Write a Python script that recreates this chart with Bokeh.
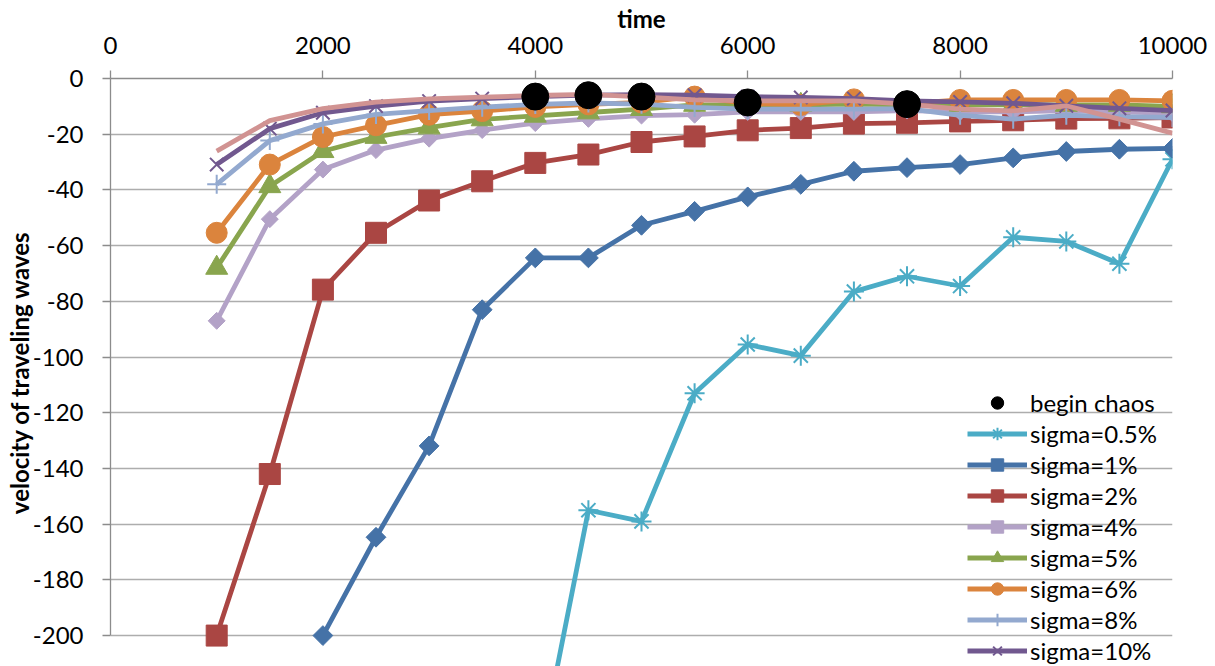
import numpy as np
from bokeh.plotting import figure
from bokeh.models import Range1d, Legend, LegendItem, SingleIntervalTicker, PrintfTickFormatter
from bokeh.embed import file_html
from bokeh.resources import INLINE

# ---- data ----
time = [1000, 1500, 2000, 2500, 3000, 3500, 4000, 4500, 5000, 5500,
        6000, 6500, 7000, 7500, 8000, 8500, 9000, 9500, 10000]

chaos_time = [4000, 4500, 5000, 6000, 7500]
chaos_vel = [-6.5, -6.0, -6.5, -8.6, -9.2]

time_s05 = [4000, 4500, 5000, 5500, 6000, 6500, 7000, 7500, 8000, 8500, 9000, 9500, 10000]
sigma_05 = [-251, -155, -159, -113, -95.5, -99.5, -76.5, -71, -74.5, -57, -58.5, -66.5, -29]

time_s1 = [2000, 2500, 3000, 3500, 4000, 4500, 5000, 5500, 6000, 6500,
           7000, 7500, 8000, 8500, 9000, 9500, 10000]
sigma_1 = [-200, -164.7, -131.9, -83, -64.4, -64.4, -52.7, -47.7, -42.5, -38,
           -33.3, -32, -30.9, -28.5, -26.2, -25.4, -25.1]

sigma_2 = [-200, -142, -75.8, -55.4, -43.8, -36.9, -30.3, -27.3, -22.8, -20.8,
           -18.6, -17.8, -16.2, -15.9, -15.4, -15.0, -14.4, -14.3, -14.0]
sigma_4 = [-87, -50.5, -32.7, -25.7, -21.6, -18.5, -16.0, -14.5, -13.3, -13.0,
           -12.0, -12.0, -12.0, -11.5, -12.0, -12.0, -11.5, -12.0, -12.5]
sigma_5 = [-68, -38.7, -26.1, -21.0, -17.6, -14.7, -13.4, -12.2, -11.0, -9.5,
           -9.5, -9.5, -9.2, -9.5, -9.5, -9.5, -9.5, -9.5, -10.0]
sigma_6 = [-55.4, -30.9, -21.0, -16.8, -13.0, -11.7, -10.2, -9.3, -8.6, -6.5,
           -9.0, -9.5, -7.5, -9.0, -7.7, -7.7, -7.7, -7.7, -8.0]
sigma_8 = [-38, -22.3, -16.3, -12.9, -11.5, -10.3, -9.3, -8.8, -9.2, -10.4,
           -11.0, -11.0, -11.0, -10.8, -13.2, -14.6, -13.2, -13.7, -14.0]
sigma_10 = [-30.9, -18.0, -12.3, -9.9, -8.1, -7.2, -6.5, -6.0, -5.8, -6.0,
            -6.5, -6.8, -7.2, -8.0, -8.4, -8.9, -9.8, -10.7, -11.5]
sigma_extra = [-26.1, -15.1, -10.8, -8.5, -7.3, -6.7, -6.1, -5.7, -6.6, -7.7,
               -8.0, -8.0, -8.0, -9.2, -11.0, -11.6, -9.8, -14.6, -19.6]

x_ticks_interval = 2000
y_ticks_interval = 20

FONT = "Lato"

# frame spans 77..666 px; 200 units occupy 558 px, so the visible range reaches a bit below -200
p = figure(width=1215, height=666, output_backend="svg", toolbar_location=None,
           x_range=Range1d(0, 10000), y_range=Range1d(-211.1, 0),
           x_axis_location="above",
           min_border_left=110, min_border_right=43, min_border_top=77, min_border_bottom=0)
p.outline_line_color = None
p.background_fill_color = "white"
p.border_fill_color = "white"

p.xaxis.ticker = SingleIntervalTicker(interval=x_ticks_interval)
p.yaxis.ticker = SingleIntervalTicker(interval=y_ticks_interval)
p.yaxis.formatter = PrintfTickFormatter(format="%d")
p.xaxis.formatter = PrintfTickFormatter(format="%d")
p.yaxis.bounds = (-200, 0)
p.xgrid.visible = False
p.ygrid.grid_line_color = "#ADADAD"
p.ygrid.grid_line_width = 1.3

for ax in (p.xaxis[0], p.yaxis[0]):
    ax.axis_line_color = "#8C8C8C"
    ax.axis_line_width = 1.3
    ax.major_tick_line_color = "#8C8C8C"
    ax.major_tick_line_width = 1.3
    ax.major_tick_in = 0
    ax.major_tick_out = 8
    ax.minor_tick_line_color = None
    ax.major_label_text_font = FONT
    ax.major_label_text_font_size = "24px"
    ax.major_label_text_color = "black"
    ax.axis_label_text_font = FONT
    ax.axis_label_text_font_size = "24px"
    ax.axis_label_text_font_style = "bold"
    ax.axis_label_text_color = "black"

p.xaxis.axis_label = "time"
p.xaxis.major_label_standoff = 17
p.xaxis.axis_label_standoff = 1
p.yaxis.axis_label = "velocity of traveling waves"
p.yaxis.major_label_standoff = 19
p.yaxis.axis_label_standoff = -4

LW = 4.8
C05 = "#4BACC6"
C1 = "#4572A7"
C2 = "#AA4643"
C4 = "#B3A2C7"
C5 = "#89A54E"
C6 = "#DB843D"
C8 = "#93A9CF"
C10 = "#71588F"
CX = "#D19392"


def series(xs, ys, color, marker, size, angle=0.0, lw=LW):
    lr = p.line(xs, ys, line_color=color, line_width=lw, line_join="round")
    if marker in ("asterisk", "x", "cross"):
        sr = p.scatter(xs, ys, marker=marker, size=size, line_color=color,
                       line_width=2, fill_color=None)
    else:
        sr = p.scatter(xs, ys, marker=marker, size=size, angle=angle,
                       fill_color=color, line_color=color, line_width=1)
    return [lr, sr]


r05 = series(time_s05, sigma_05, C05, "asterisk", 20)
r1 = series(time_s1, sigma_1, C1, "square", 14, angle=np.pi / 4)
r2 = series(time, sigma_2, C2, "square", 21)
r4 = series(time, sigma_4, C4, "square", 12, angle=np.pi / 4)
r5 = series(time, sigma_5, C5, "triangle", 22)
r6 = series(time, sigma_6, C6, "circle", 21)
r8 = series(time, sigma_8, C8, "cross", 19)
r10 = series(time, sigma_10, C10, "x", 19)
rx = p.line(time, sigma_extra, line_color=CX, line_width=LW, line_join="round")
rc = p.scatter(chaos_time, chaos_vel, marker="circle", size=27,
               fill_color="black", line_color="black")

legend = Legend(items=[
    LegendItem(label="begin chaos", renderers=[rc]),
    LegendItem(label="sigma=0.5%", renderers=r05),
    LegendItem(label="sigma=1%", renderers=r1),
    LegendItem(label="sigma=2%", renderers=r2),
    LegendItem(label="sigma=4%", renderers=r4),
    LegendItem(label="sigma=5%", renderers=r5),
    LegendItem(label="sigma=6%", renderers=r6),
    LegendItem(label="sigma=8%", renderers=r8),
    LegendItem(label="sigma=10%", renderers=r10),
], location=(857, 0))
legend.label_text_font = FONT
legend.label_text_font_size = "24px"
legend.label_text_color = "black"
legend.glyph_width = 60
legend.glyph_height = 31
legend.label_height = 31
legend.spacing = 0
legend.padding = 0
legend.margin = 0
legend.label_standoff = 3
legend.border_line_color = None
legend.background_fill_alpha = 0
p.add_layout(legend)

open("out.html", "w").write(file_html(p, INLINE))
